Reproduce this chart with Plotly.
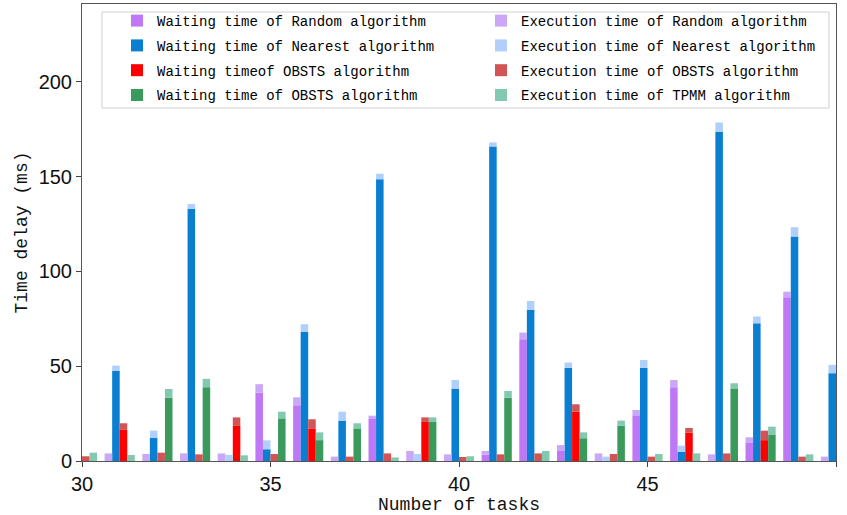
import plotly.graph_objects as go

tasks = list(range(30, 51))

random_wait = [0, 0, 0, 0, 0, 36, 29.4, 0, 22.5, 0, 0, 3.3, 64.2, 5.3, 0, 24.1, 38.9, 0, 9.8, 86.4, 0]
random_exec = [3, 4, 3.7, 4, 4, 4.5, 4.2, 2.3, 1.4, 5.3, 3.5, 2.0, 3.5, 3.1, 4, 2.8, 3.8, 3.5, 2.7, 2.9, 2.3]

nearest_wait = [0, 47.5, 12.3, 133, 0, 6.2, 68.2, 21.3, 148.6, 0, 38.2, 165.9, 79.7, 49.2, 0, 49.2, 4.9, 173.6, 72.6, 118.4, 46.3]
nearest_exec = [3, 2.8, 3.7, 2.5, 3.2, 4.7, 3.9, 4.7, 2.9, 3.7, 4.5, 2.1, 4.7, 2.7, 2.3, 4.1, 3.2, 4.9, 3.6, 4.9, 4.4]

obsts_wait = [0, 16.4, 0, 0, 18.5, 0, 16.9, 0, 0, 20.6, 0, 0, 0, 26, 0, 0, 15, 0, 11, 0, 0]
obsts_exec = [2.5, 3.5, 4.4, 3.5, 4.5, 3.7, 5.1, 2.3, 4, 2.4, 2.1, 3.5, 4, 3.9, 3.7, 2.3, 2.4, 4, 5, 2.3, 2]

tpmm_wait = [0, 0, 33.4, 38.9, 0, 22.5, 11, 17.2, 0, 20.6, 0, 33.4, 0, 12, 18.6, 0, 0, 38.3, 14, 0, 0]
tpmm_exec = [4.4, 3.2, 4.6, 4.4, 3, 3.5, 4.1, 2.7, 1.9, 2.4, 2.5, 3.5, 5.3, 3.1, 2.7, 3.7, 4, 2.7, 4.1, 3.5, 2]

names_wait = ["Waiting time of Random algorithm", "Waiting time of Nearest algorithm",
              "Waiting timeof OBSTS algorithm", "Waiting time of OBSTS algorithm"]
names_exec = ["Execution time of Random algorithm", "Execution time of Nearest algorithm",
              "Execution time of OBSTS algorithm", "Execution time of TPMM algorithm"]

colors_wait = ["#bf77f6", "#0a7fd2", "#ff0000", "#3a9a5c"]
colors_exec = ["#caa8f7", "#b0d0fb", "#d25454", "#82c9b0"]

waits = [random_wait, nearest_wait, obsts_wait, tpmm_wait]
execs = [random_exec, nearest_exec, obsts_exec, tpmm_exec]
offsets = [-0.4, -0.2, 0.0, 0.2]
bar_w = 0.2

fig = go.Figure()
for i in range(4):
    fig.add_trace(go.Bar(
        x=tasks, y=waits[i], width=bar_w, offset=offsets[i],
        marker=dict(color=colors_wait[i], line=dict(width=0)),
        name=names_wait[i], legend="legend", legendgroup="w%d" % i,
    ))
for i in range(4):
    fig.add_trace(go.Bar(
        x=tasks, y=execs[i], base=waits[i], width=bar_w, offset=offsets[i],
        marker=dict(color=colors_exec[i], line=dict(width=0)),
        name=names_exec[i], legend="legend2", legendgroup="e%d" % i,
    ))

H = 457.0
def py(px):
    return (461 - px) / H
W = 754.0
def pxx(px):
    return (px - 82) / W

mono = "Liberation Mono, DejaVu Sans Mono, monospace"
legend_font = dict(family=mono, size=14, color="#000000")
fig.update_layout(
    width=847, height=515,
    margin=dict(l=82, r=11, t=4, b=54),
    barmode="overlay",
    plot_bgcolor="white", paper_bgcolor="white",
    showlegend=True,
    legend=dict(x=pxx(117), y=py(5), xanchor="left", yanchor="top",
                orientation="v", tracegroupgap=3.6, bgcolor="rgba(0,0,0,0)",
                font=legend_font, itemwidth=30),
    legend2=dict(x=pxx(481), y=py(5), xanchor="left", yanchor="top",
                 orientation="v", tracegroupgap=3.6, bgcolor="rgba(0,0,0,0)",
                 font=legend_font, itemwidth=30),
    xaxis=dict(range=[30, 50], tickvals=[30, 35, 40, 45, 50], ticks="outside", ticklen=5,
               tickcolor="#444", showgrid=False, zeroline=False, automargin=False,
               showline=True, linecolor="#555", linewidth=1, mirror=True,
               tickfont=dict(family="Liberation Sans, Arial", size=20, color="#111"),
               title=dict(text="Number of tasks", standoff=0,
                          font=dict(family=mono, size=18, color="#111"))),
    yaxis=dict(range=[0, 241], tickvals=[0, 50, 100, 150, 200], ticks="outside", ticklen=5,
               tickcolor="#444", showgrid=False, zeroline=False, automargin=False,
               showline=True, linecolor="#555", linewidth=1, mirror=True,
               tickfont=dict(family="Liberation Sans, Arial", size=20, color="#111"),
               title=dict(text="Time delay (ms)", standoff=6,
                          font=dict(family=mono, size=18, color="#111"))),
    shapes=[dict(type="rect", xref="paper", yref="paper",
                 x0=pxx(102), x1=pxx(829), y0=py(108), y1=py(12),
                 line=dict(color="#d0d0d0", width=1), fillcolor="rgba(255,255,255,0.8)", layer="below")],
)

fig.write_html("out.html", config={"displayModeBar": False},
               post_script="document.body.style.margin='0';")
